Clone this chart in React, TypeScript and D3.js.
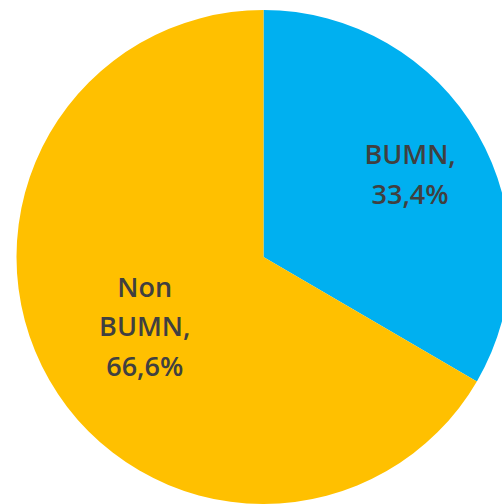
import React from "react";
import * as d3 from "d3";

const categories = ["BUMN", "Non BUMN"];
const values = [33.4, 66.6];
const labelLines = [["BUMN,", "33,4%"], ["Non", "BUMN,", "66,6%"]];
const colors = ["#00B0F0", "#FFC000"];

const W = 502;
const H = 504;
const CX = 263.5;
const CY = 257;
const R = 247;
const LABEL_R = [169, 137];
const LINE_H = 39.5;

export default function App() {
  const pie = d3.pie<number>().sort(null).value((d) => d);
  const arcs = pie(values);
  const arcGen = d3.arc<d3.PieArcDatum<number>>().innerRadius(0).outerRadius(R);
  return (
    <svg width={W} height={H} style={{ position: "absolute", left: 0, top: 0, background: "#fff" }}>
      <g transform={`translate(${CX},${CY})`}>
        {arcs.map((a, i) => (
          <path key={categories[i]} d={arcGen(a) || ""} fill={colors[i]} />
        ))}
        {arcs.map((a, i) => {
          const mid = (a.startAngle + a.endAngle) / 2;
          const lx = Math.sin(mid) * LABEL_R[i];
          const ly = -Math.cos(mid) * LABEL_R[i];
          const lines = labelLines[i];
          const startY = ly - ((lines.length - 1) * LINE_H) / 2;
          return (
            <text
              key={"l" + i}
              x={lx}
              y={startY}
              textAnchor="middle"
              dominantBaseline="central"
              fontFamily="'Open Sans', sans-serif"
              fontSize={27}
              fontWeight={600}
              fill="#404040"
            >
              {lines.map((t, j) => (
                <tspan key={j} x={lx} y={startY + j * LINE_H}>
                  {t}
                </tspan>
              ))}
            </text>
          );
        })}
      </g>
    </svg>
  );
}
